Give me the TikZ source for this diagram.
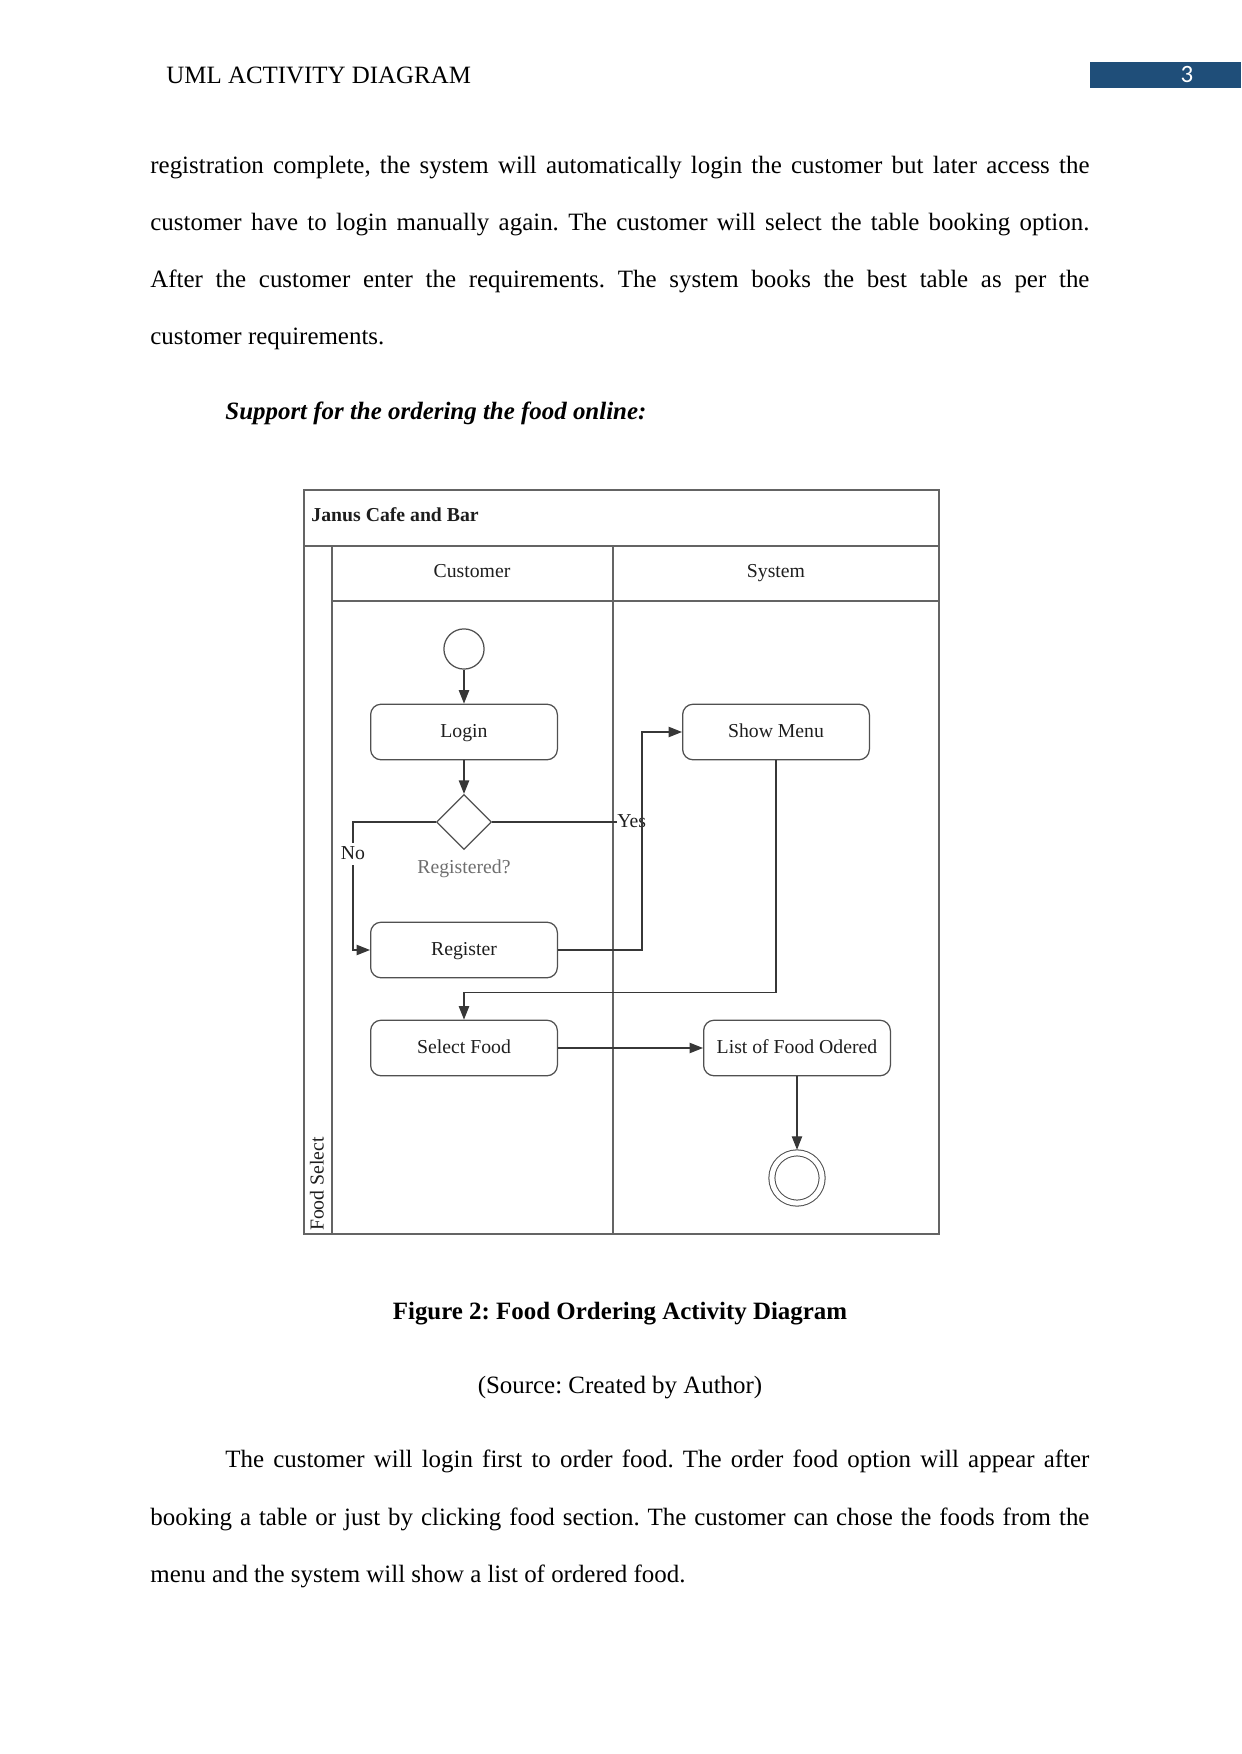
\documentclass[tikz,border=0pt]{standalone}
\usepackage{fontspec}
\setmainfont{Liberation Serif}
\newfontfamily\pnfont{Carlito}
\usetikzlibrary{arrows.meta,positioning,shapes.geometric}
\usepackage{xcolor}
\definecolor{pgblue}{RGB}{31,78,121}
\definecolor{dgline}{RGB}{55,55,55}
\definecolor{dgbox}{RGB}{80,80,80}
\definecolor{dgframe}{RGB}{100,100,100}
\definecolor{dgtext}{RGB}{30,30,30}
\definecolor{dgnote}{RGB}{110,110,110}
\frenchspacing

\begin{document}
\begin{tikzpicture}[
  x=0.01692cm, y=-0.01692cm,
  txt/.style={font=\fontsize{12}{14}\selectfont, inner sep=0pt},
  para/.style={txt, anchor=mid west},
  lbl/.style={font=\fontsize{9.5}{11}\selectfont, text=dgtext, inner sep=1pt,
    text height=1.6ex, text depth=0.4ex},
  act/.style={lbl, draw=dgbox, line width=0.6pt, rounded corners=5pt,
    minimum width=3.16cm, minimum height=0.94cm},
  dec/.style={diamond, draw=dgbox, line width=0.6pt, minimum width=0.93cm,
    minimum height=0.93cm, inner sep=0pt},
  ini/.style={circle, draw=dgbox, line width=0.6pt, minimum size=0.68cm, inner sep=0pt},
  fin/.style={circle, draw=dgbox, line width=0.5pt, double, double distance=2.4pt,
    minimum size=0.85cm, inner sep=0pt, outer sep=1.5pt},
  arr/.style={-{Triangle[length=6.5pt,width=5pt]}, dgline, line width=0.6pt},
  lnk/.style={dgline, line width=0.6pt},
  lane/.style={dgframe, line width=0.7pt}
]
\useasboundingbox (0,0) rectangle (1241,1754);

% page header
\node[txt, anchor=west] (hdr) at (166,75) {UML ACTIVITY DIAGRAM};
\fill[pgblue] (1090,62) rectangle (1241,88);
\node[txt, font=\pnfont\fontsize{12}{14}\selectfont, text=white] (pgn) at (1187,75) {3};

% text above the figure
\node[para] (t1) at (150,169) {\makebox[15.89cm][s]{registration complete, the system will automatically login the customer but later access the}};
\node[para] (t2) at (150,226) {\makebox[15.89cm][s]{customer have to login manually again. The customer will select the table booking option.}};
\node[para] (t3) at (150,283) {\makebox[15.89cm][s]{After the customer enter the requirements. The system books the best table as per the}};
\node[para] (t4) at (150,340) {customer requirements.};
\node[para, font=\fontsize{12}{14}\selectfont\bfseries\itshape] (sec) at (225,415)
  {Support for the ordering the food online:};

% swimlanes
\draw[lane] (304,490) rectangle (939,1234);
\draw[lane] (304,546) -- (939,546);
\draw[lane] (332,546) -- (332,1234);
\draw[lane] (332,601) -- (939,601);
\draw[lane] (613,546) -- (613,1234);
\node[lbl, font=\fontsize{9.5}{11}\selectfont\bfseries, anchor=west] (pool) at (309,516) {Janus Cafe and Bar};
\node[lbl] (cus) at (472,572) {Customer};
\node[lbl] (sys) at (776,572) {System};
\node[lbl, rotate=90] (fsel) at (318,1184) {Food Select};

% activities
\node[ini] (st) at (464,649) {};
\node[act] (lgn) at (464,732) {Login};
\node[dec] (reg) at (464,822) {};
\node[lbl, text=dgnote] (regq) at (464,868) {Registered?};
\node[act] (rgs) at (464,950) {Register};
\node[act] (shm) at (776,732) {Show Menu};
\node[act] (sel) at (464,1048) {Select Food};
\node[act] (lst) at (797,1048) {List of Food Odered};
\node[fin] (end) at (797,1178) {};
\node[lbl, anchor=west, inner sep=0pt] (yes) at (617,822) {Yes};

\draw[arr] (st) -- (lgn);
\draw[arr] (lgn) -- (reg);
\draw[arr] (reg.west) -- ++(-83,0) |- (rgs.west);
\node[lbl, fill=white, inner sep=0.5pt] (no) at (353,854) {No};
\draw[lnk] (reg.east) -- (yes.west);
\draw[arr] (rgs.east) -- ++(84,0) |- (shm.west);
\draw[arr] (shm.south) -- ++(0,232) -| (sel.north);
\draw[arr] (sel) -- (lst);
\draw[arr] (lst) -- (end);

% caption and text below
\node[txt, anchor=mid, font=\fontsize{12}{14}\selectfont\bfseries] (cap) at (620,1315)
  {Figure 2: Food Ordering Activity Diagram};
\node[txt, anchor=mid] (src) at (620,1389) {(Source: Created by Author)};
\node[para] (p1) at (225,1463) {\makebox[14.62cm][s]{The customer will login first to order food. The order food option will appear after}};
\node[para] (p2) at (150,1521) {\makebox[15.89cm][s]{booking a table or just by clicking food section. The customer can chose the foods from the}};
\node[para] (p3) at (150,1578) {menu and the system will show a list of ordered food.};
\end{tikzpicture}
\end{document}
